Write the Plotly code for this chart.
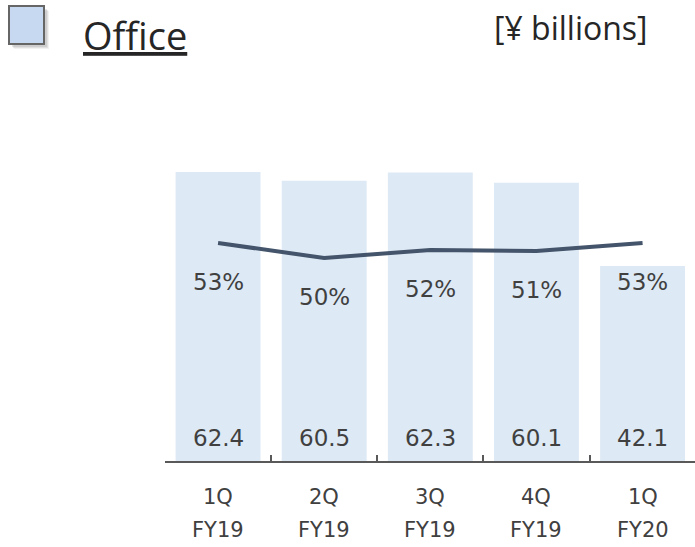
import plotly.graph_objects as go

categories = ["1Q FY19", "2Q FY19", "3Q FY19", "4Q FY19", "1Q FY20"]
quarter_labels = ["1Q", "2Q", "3Q", "4Q", "1Q"]
year_labels = ["FY19", "FY19", "FY19", "FY19", "FY20"]
sales = [62.4, 60.5, 62.3, 60.1, 42.1]
ratio = [53.0, 50.0, 51.6, 51.4, 53.0]
ratio_labels = ["53%", "50%", "52%", "51%", "53%"]

W, H = 695, 547
def px(x): return x / W
def py(y): return 1 - y / H

TXT = "#404040"
NUMFONT = "DejaVu Sans, Verdana, sans-serif"

fig = go.Figure()
fig.add_trace(go.Bar(x=categories, y=sales, marker=dict(color="#DDE9F5", line=dict(width=0)),
                     hoverinfo="skip", showlegend=False))
fig.add_trace(go.Scatter(x=categories, y=ratio, yaxis="y2", mode="lines",
                         line=dict(color="#44546A", width=4), showlegend=False, hoverinfo="skip"))

annotations = []
for c, v in zip(categories, sales):
    annotations.append(dict(x=c, y=0, xref="x", yref="y", text=f"{v:.1f}", showarrow=False,
                            yanchor="bottom", yshift=8, font=dict(family=NUMFONT, size=23, color=TXT)))
for c, v, t in zip(categories, ratio, ratio_labels):
    annotations.append(dict(x=c, y=v, xref="x", yref="y2", text=t, showarrow=False,
                            yanchor="middle", yshift=-39, font=dict(family=NUMFONT, size=23, color=TXT)))
for c, q, fy in zip(categories, quarter_labels, year_labels):
    annotations.append(dict(x=c, y=py(497), xref="x", yref="paper", text=q, showarrow=False,
                            yanchor="middle", font=dict(family=NUMFONT, size=21, color=TXT)))
    annotations.append(dict(x=c, y=py(530), xref="x", yref="paper", text=fy, showarrow=False,
                            yanchor="middle", font=dict(family=NUMFONT, size=21, color=TXT)))

annotations.append(dict(x=px(81), y=py(35), xref="paper", yref="paper", text="<u>Office</u>",
                        showarrow=False, xanchor="left", yanchor="middle",
                        font=dict(family="Open Sans, sans-serif", size=38, color="#262626")))
annotations.append(dict(x=px(650), y=py(27), xref="paper", yref="paper", text="[¥ billions]",
                        showarrow=False, xanchor="right", yanchor="middle",
                        font=dict(family="Open Sans, sans-serif", size=32, color="#262626")))

shapes = []
for off, op in [(5, 0.10), (4, 0.15), (3, 0.2)]:
    shapes.append(dict(type="rect", xref="paper", yref="paper",
                       x0=px(9 + off), x1=px(44 + off), y0=py(6 + off), y1=py(44 + off),
                       fillcolor="#808080", opacity=op, line=dict(width=0)))
shapes.append(dict(type="rect", xref="paper", yref="paper",
                   x0=px(9), x1=px(44), y0=py(6), y1=py(44),
                   fillcolor="#C6D9F1", line=dict(color="#666666", width=2)))

base = 461
scale = (461 - 172) / 62.4
top = 100
ymax = (base - top) / scale
pscale = (258 - 243) / 3.0
y2min = 53 - (base - 243) / pscale
y2max = 53 + (243 - top) / pscale
span = (W - 165) / ((643 - 218.5) / 4)

fig.update_layout(
    width=W, height=H, margin=dict(l=0, r=0, t=0, b=0),
    paper_bgcolor="white", plot_bgcolor="white",
    bargap=0.2,
    xaxis=dict(domain=[px(165), 1], type="category", range=[-0.5, -0.5 + span],
               showline=True, linecolor="#595959", linewidth=1.5,
               ticks="inside", ticklen=6, tickcolor="#595959", tickwidth=1.5,
               tickson="boundaries", showticklabels=False, showgrid=False, zeroline=False),
    yaxis=dict(domain=[py(base), py(top)], range=[0, ymax], visible=False, showgrid=False),
    yaxis2=dict(domain=[py(base), py(top)], range=[y2min, y2max], overlaying="y",
                visible=False, showgrid=False),
    annotations=annotations, shapes=shapes,
)

fig.write_html("out.html", config={"displayModeBar": False},
               post_script="document.body.style.margin='0';document.body.style.overflow='hidden';")
